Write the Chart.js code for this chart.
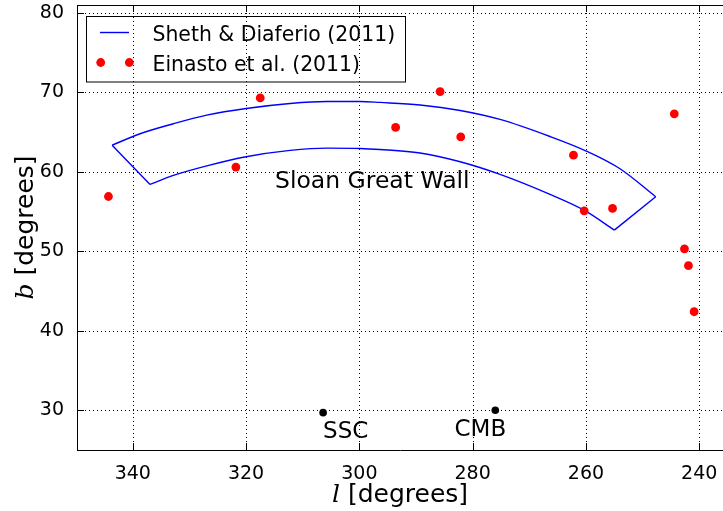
<!DOCTYPE html>
<html>
<head>
<meta charset="utf-8">
<script src="https://cdn.jsdelivr.net/npm/chart.js@4/dist/chart.umd.min.js"></script>
<style>
html,body{margin:0;padding:0;background:#ffffff;}
#wrap{width:723px;height:511px;position:relative;}
</style>
</head>
<body>
<div id="wrap"><canvas id="c" width="723" height="511"></canvas></div>
<script>
// ---- data ----
const xTicks = [340, 320, 300, 280, 260, 240];
const yTicks = [30, 40, 50, 60, 70, 80];
const xRange = [235.8, 349.85];
const yRange = [25, 81];

// Sheth & Diaferio (2011) region outline: outer arc and inner arc (left to right)
const outerL = [343.65, 338.71, 332.83, 326.94, 320.00, 312.23, 305.75, 299.88, 296.35, 289.29, 282.20, 275.16, 266.34, 260.04, 253.98, 247.68];
const outerB = [63.36, 64.80, 66.06, 67.14, 67.98, 68.61, 68.86, 68.86, 68.74, 68.42, 67.73, 66.60, 64.45, 62.65, 60.39, 56.87];
const innerL = [336.95, 332.83, 326.94, 320.00, 312.23, 305.75, 299.88, 296.35, 289.29, 282.20, 275.16, 266.34, 260.04, 254.99];
const innerB = [58.42, 59.55, 60.75, 61.90, 62.70, 62.99, 62.95, 62.82, 62.38, 61.27, 59.68, 57.16, 55.06, 52.67];

// Einasto et al. (2011)
const einastoL = [344.3, 321.8, 317.5, 293.6, 285.75, 282.1, 262.2, 260.3, 255.3, 244.4, 242.6, 241.9, 240.9];
const einastoB = [56.9, 60.6, 69.3, 65.6, 70.1, 64.4, 62.1, 55.1, 55.4, 67.3, 50.3, 48.2, 42.4];

// reference directions
const refNames = ['SSC', 'CMB'];
const refL = [306.4, 276.0];
const refB = [29.7, 30.0];
const refLabelL = [306.4, 283.2];
const refLabelB = [26.5, 26.7];

const regionName = 'Sloan Great Wall';
const regionLabelL = [314.9];
const regionLabelB = [58.0];

const seriesNames = ['Sheth & Diaferio (2011)', 'Einasto et al. (2011)'];
const xTitle = ['l', ' [degrees]'];
const yTitle = ['b', ' [degrees]'];

// ---- chart ----
const FONT = '"DejaVu Sans", "Liberation Sans", sans-serif';
const SERIF = '"DejaVu Serif", "Liberation Serif", serif';
const BLUE = '#0000ff';

const toXY = (ls, bs) => ls.map((l, i) => ({x: l, y: bs[i]}));
// end caps joining the two arcs (gap in between)
const capData = [
  {x: outerL[0], y: outerB[0]}, {x: innerL[0], y: innerB[0]},
  {x: outerL[0], y: null},
  {x: outerL[outerL.length - 1], y: outerB[outerB.length - 1]}, {x: innerL[innerL.length - 1], y: innerB[innerB.length - 1]}
];

const framePlugin = {
  id: 'frame',
  afterLayout(chart) {
    // let the plot run to the right edge of the canvas (the figure is cut there)
    const a = chart.chartArea, s = chart.scales.x, W = chart.width;
    if (a.right < W) {
      a.right = W; a.width = a.right - a.left;
      s.right = W; s.width = W - s.left;
      s.configure();
    }
  },
  beforeDatasetsDraw(chart) {
    const {ctx, chartArea: a, scales: {x, y}} = chart;
    ctx.save();
    // dotted grid
    ctx.strokeStyle = '#000';
    ctx.lineWidth = 1;
    ctx.setLineDash([1, 3]);
    ctx.beginPath();
    x.ticks.forEach(t => {
      const px = Math.round(x.getPixelForValue(t.value)) + 0.5;
      ctx.moveTo(px, a.bottom); ctx.lineTo(px, a.top);
    });
    y.ticks.forEach(t => {
      const py = Math.round(y.getPixelForValue(t.value)) + 0.5;
      ctx.moveTo(a.left, py); ctx.lineTo(a.right, py);
    });
    ctx.stroke();
    ctx.setLineDash([]);
    // top spine and inward ticks
    ctx.beginPath();
    ctx.moveTo(a.left, Math.round(a.top) + 0.5);
    ctx.lineTo(a.right, Math.round(a.top) + 0.5);
    const tl = 7;
    x.ticks.forEach(t => {
      const px = Math.round(x.getPixelForValue(t.value)) + 0.5;
      ctx.moveTo(px, a.bottom); ctx.lineTo(px, a.bottom - tl);
      ctx.moveTo(px, a.top); ctx.lineTo(px, a.top + tl);
    });
    y.ticks.forEach(t => {
      const py = Math.round(y.getPixelForValue(t.value)) + 0.5;
      ctx.moveTo(a.left, py); ctx.lineTo(a.left + tl, py);
    });
    ctx.stroke();
    ctx.restore();
  },
  afterDraw(chart) {
    const {ctx, chartArea: a, scales: {x, y}} = chart;
    ctx.save();
    ctx.fillStyle = '#000';
    // annotations
    ctx.font = '23.5px ' + FONT;
    ctx.textAlign = 'left';
    ctx.textBaseline = 'alphabetic';
    ctx.fillText(regionName, x.getPixelForValue(regionLabelL[0]), y.getPixelForValue(regionLabelB[0]));
    ctx.font = '23px ' + FONT;
    refNames.forEach((n, i) => {
      ctx.fillText(n, x.getPixelForValue(refLabelL[i]), y.getPixelForValue(refLabelB[i]));
    });

    // axis titles (italic math symbol + plain text)
    const drawTitle = (parts, cx, cy, rot) => {
      ctx.save();
      ctx.translate(cx, cy);
      ctx.rotate(rot);
      ctx.font = 'italic 25px ' + SERIF;
      const w0 = ctx.measureText(parts[0]).width;
      ctx.font = '25px ' + FONT;
      const w1 = ctx.measureText(parts[1]).width;
      const start = -(w0 + w1) / 2;
      ctx.textAlign = 'left';
      ctx.textBaseline = 'alphabetic';
      ctx.font = 'italic 25px ' + SERIF;
      ctx.fillText(parts[0], start, 0);
      ctx.font = '25px ' + FONT;
      ctx.fillText(parts[1], start + w0, 0);
      ctx.restore();
    };
    drawTitle(xTitle, (a.left + a.right) / 2, 502, 0);
    drawTitle(yTitle, 33, (a.top + a.bottom) / 2, -Math.PI / 2);

    // legend
    const lx = a.left + 9, ly = a.top + 10.5, lw = 319, lh = 65.5;
    ctx.strokeStyle = '#000';
    ctx.lineWidth = 1;
    ctx.strokeRect(Math.round(lx) + 0.5, Math.round(ly) + 0.5, lw, lh);
    const line = chart.data.datasets.find(d => d.label === seriesNames[0]);
    ctx.strokeStyle = line.borderColor;
    ctx.lineWidth = line.borderWidth;
    ctx.beginPath();
    ctx.moveTo(lx + 14, ly + 17); ctx.lineTo(lx + 43, ly + 17);
    ctx.stroke();
    const pts = chart.data.datasets.find(d => d.label === seriesNames[1]);
    ctx.fillStyle = pts.backgroundColor;
    [lx + 14.7, lx + 43.3].forEach(px => {
      ctx.beginPath(); ctx.arc(px, ly + 47, pts.pointRadius, 0, Math.PI * 2); ctx.fill();
    });
    ctx.fillStyle = '#000';
    ctx.font = '20.4px ' + FONT;
    ctx.textBaseline = 'alphabetic';
    ctx.fillText(seriesNames[0], lx + 66.5, ly + 25);
    ctx.fillText(seriesNames[1], lx + 66.5, ly + 55);
    ctx.restore();
  }
};

new Chart(document.getElementById('c'), {
  type: 'scatter',
  data: {
    datasets: [
      {
        label: seriesNames[0],
        data: toXY(outerL, outerB),
        showLine: true,
        borderColor: BLUE,
        borderWidth: 1.4,
        pointRadius: 0,
        fill: false,
        cubicInterpolationMode: 'monotone',
        order: 5
      },
      {
        label: seriesNames[0] + ' inner',
        data: toXY(innerL, innerB),
        showLine: true,
        borderColor: BLUE,
        borderWidth: 1.4,
        pointRadius: 0,
        fill: false,
        cubicInterpolationMode: 'monotone',
        order: 5
      },
      {
        label: seriesNames[0] + ' ends',
        data: capData,
        showLine: true,
        spanGaps: false,
        borderColor: BLUE,
        borderWidth: 1.4,
        pointRadius: 0,
        fill: false,
        tension: 0,
        order: 5
      },
      {
        label: seriesNames[1],
        data: toXY(einastoL, einastoB),
        backgroundColor: '#ff0000',
        borderWidth: 0,
        pointRadius: 4.4,
        order: 1
      },
      {
        label: 'reference',
        data: toXY(refL, refB),
        backgroundColor: '#000000',
        borderWidth: 0,
        pointRadius: 3.8,
        order: 2
      }
    ]
  },
  options: {
    responsive: false,
    animation: false,
    devicePixelRatio: 1,
    layout: {padding: {top: 5, right: 0, left: 0, bottom: 0}},
    plugins: {legend: {display: false}, tooltip: {enabled: false}, title: {display: false}},
    scales: {
      x: {
        type: 'linear',
        reverse: true,
        min: xRange[0],
        max: xRange[1],
        afterBuildTicks: s => { s.ticks = xTicks.map(v => ({value: v})); },
        afterFit: s => { s.height = 61; s.paddingLeft = 0; s.paddingRight = 0; },
        grid: {display: false},
        border: {display: true, color: '#000', width: 1},
        ticks: {color: '#000', font: {family: FONT, size: 19}, padding: 5, maxRotation: 0, autoSkip: false}
      },
      y: {
        type: 'linear',
        min: yRange[0],
        max: yRange[1],
        afterBuildTicks: s => { s.ticks = yTicks.map(v => ({value: v})); },
        afterFit: s => { s.width = 77; s.paddingTop = 0; s.paddingBottom = 0; },
        grid: {display: false},
        border: {display: true, color: '#000', width: 1},
        ticks: {color: '#000', font: {family: FONT, size: 19}, padding: 5, autoSkip: false}
      }
    }
  },
  plugins: [framePlugin]
});
</script>
</body>
</html>
